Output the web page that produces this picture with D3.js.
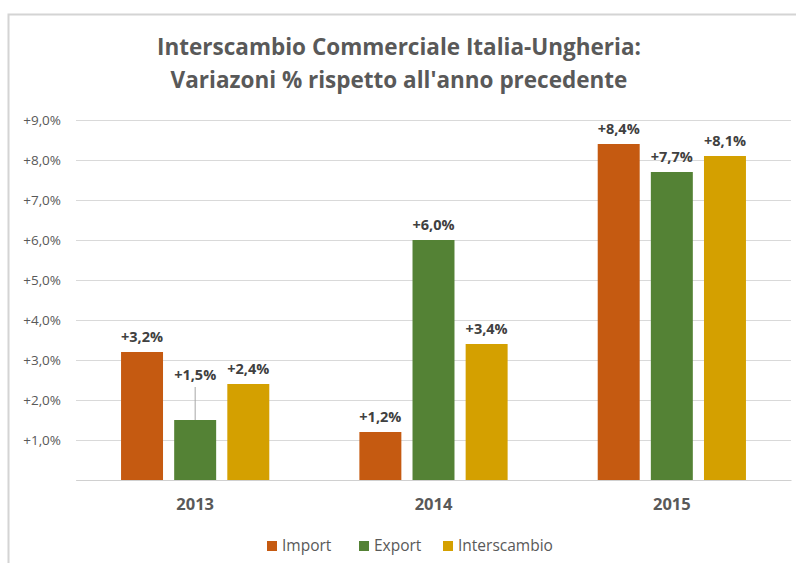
<!DOCTYPE html>
<html>
<head>
<meta charset="utf-8">
<script src="https://cdn.jsdelivr.net/npm/d3@7"></script>
<style>
  body { margin: 0; background: #fff; }
  svg { display: block; font-family: "Open Sans", "Noto Sans", sans-serif; }
</style>
</head>
<body>
<script>
// chart values
var years = ["2013", "2014", "2015"];
var seriesNames = ["Import", "Export", "Interscambio"];
var importVals = [3.2, 1.2, 8.4];
var exportVals = [1.5, 6.0, 7.7];
var interVals = [2.4, 3.4, 8.1];
var yTicks = [0, 1, 2, 3, 4, 5, 6, 7, 8, 9];
var titleLines = ["Interscambio Commerciale Italia-Ungheria:", "Variazoni % rispetto all'anno precedente"];

var colours = ["#C55A11", "#548235", "#D4A000"];
var w = 796;
var h = 563;

var svg = d3.select("body").append("svg")
  .attr("width", w)
  .attr("height", h);

// outer chart frame (right/bottom fall outside the picture)
svg.append("rect")
  .attr("x", 8.5).attr("y", 14.5)
  .attr("width", w + 20).attr("height", h + 20)
  .attr("fill", "none")
  .attr("stroke", "#d4d4d4")
  .attr("stroke-width", 2);

// title
svg.append("g").selectAll("text")
  .data(titleLines)
  .enter().append("text")
  .attr("x", 399)
  .attr("y", function(d, i) { return 55 + i * 33; })
  .attr("text-anchor", "middle")
  .attr("font-size", "22.5px")
  .attr("font-weight", "bold")
  .attr("fill", "#595959")
  .text(function(d) { return d; });

var plotLeft = 76, plotRight = 791, plotTop = 120, plotBottom = 480;

var yScale = d3.scaleLinear()
  .domain([0, 9])
  .range([plotBottom, plotTop]);

var x0 = d3.scaleBand()
  .domain(years)
  .range([plotLeft, plotRight])
  .paddingInner(0.378)
  .paddingOuter(0.189);

var x1 = d3.scaleBand()
  .domain(seriesNames)
  .range([0, x0.bandwidth()])
  .paddingInner(0.21);

function fmt(v) {
  return "+" + d3.format(".1f")(v).replace(".", ",") + "%";
}

// y axis + gridlines
var yAxis = svg.append("g")
  .attr("transform", "translate(" + plotLeft + ",0)")
  .call(d3.axisLeft(yScale)
    .tickValues(yTicks)
    .tickSize(-(plotRight - plotLeft))
    .tickPadding(15)
    .tickFormat(function(d) { return d === 0 ? "" : fmt(d); }));
yAxis.select(".domain").remove();
yAxis.selectAll(".tick line").attr("stroke", "#d9d9d9");
yAxis.selectAll(".tick text")
  .attr("fill", "#595959")
  .style("font-size", "13.5px")
  .style("font-family", "'Open Sans', sans-serif");

// x axis labels
var xAxis = svg.append("g")
  .attr("transform", "translate(0," + plotBottom + ")")
  .call(d3.axisBottom(x0).tickSize(0).tickPadding(18));
xAxis.select(".domain").attr("stroke", "#d0d0d0");
xAxis.selectAll(".tick text")
  .attr("fill", "#595959")
  .style("font-size", "16.5px")
  .style("font-weight", "bold")
  .style("font-family", "'Open Sans', sans-serif");

var table = [];
years.forEach(function(y, i) {
  table.push({ year: y, name: "Import", value: importVals[i] });
  table.push({ year: y, name: "Export", value: exportVals[i] });
  table.push({ year: y, name: "Interscambio", value: interVals[i] });
});

var colour = d3.scaleOrdinal().domain(seriesNames).range(colours);

svg.append("g").selectAll("rect")
  .data(table)
  .enter().append("rect")
  .attr("x", function(d) { return x0(d.year) + x1(d.name); })
  .attr("y", function(d) { return yScale(d.value); })
  .attr("width", x1.bandwidth())
  .attr("height", function(d) { return plotBottom - yScale(d.value); })
  .attr("fill", function(d) { return colour(d.name); });

// the 2013 export label was dragged up, with a leader line
function lift(d) { return (d.year === "2013" && d.name === "Export") ? 30 : 0; }

svg.append("g").selectAll("line")
  .data(table.filter(function(d) { return lift(d) > 0; }))
  .enter().append("line")
  .attr("x1", function(d) { return x0(d.year) + x1(d.name) + x1.bandwidth() / 2; })
  .attr("x2", function(d) { return x0(d.year) + x1(d.name) + x1.bandwidth() / 2; })
  .attr("y1", function(d) { return yScale(d.value) - lift(d) - 3; })
  .attr("y2", function(d) { return yScale(d.value); })
  .attr("stroke", "#a6a6a6");

svg.append("g").selectAll("text")
  .data(table)
  .enter().append("text")
  .attr("x", function(d) { return x0(d.year) + x1(d.name) + x1.bandwidth() / 2; })
  .attr("y", function(d) { return yScale(d.value) - 10 - lift(d); })
  .attr("text-anchor", "middle")
  .attr("font-size", "14.5px")
  .attr("font-weight", "bold")
  .attr("fill", "#404040")
  .text(function(d) { return fmt(d.value); });

// legend
var legendX = [267, 359, 443];
var legend = svg.append("g").selectAll("g")
  .data(seriesNames)
  .enter().append("g")
  .attr("transform", function(d, i) { return "translate(" + legendX[i] + ",541)"; });
legend.append("rect")
  .attr("width", 10).attr("height", 10)
  .attr("fill", function(d) { return colour(d); });
legend.append("text")
  .attr("x", 15).attr("y", 10)
  .attr("font-size", "15.5px")
  .attr("fill", "#595959")
  .text(function(d) { return d; });
</script>
</body>
</html>
